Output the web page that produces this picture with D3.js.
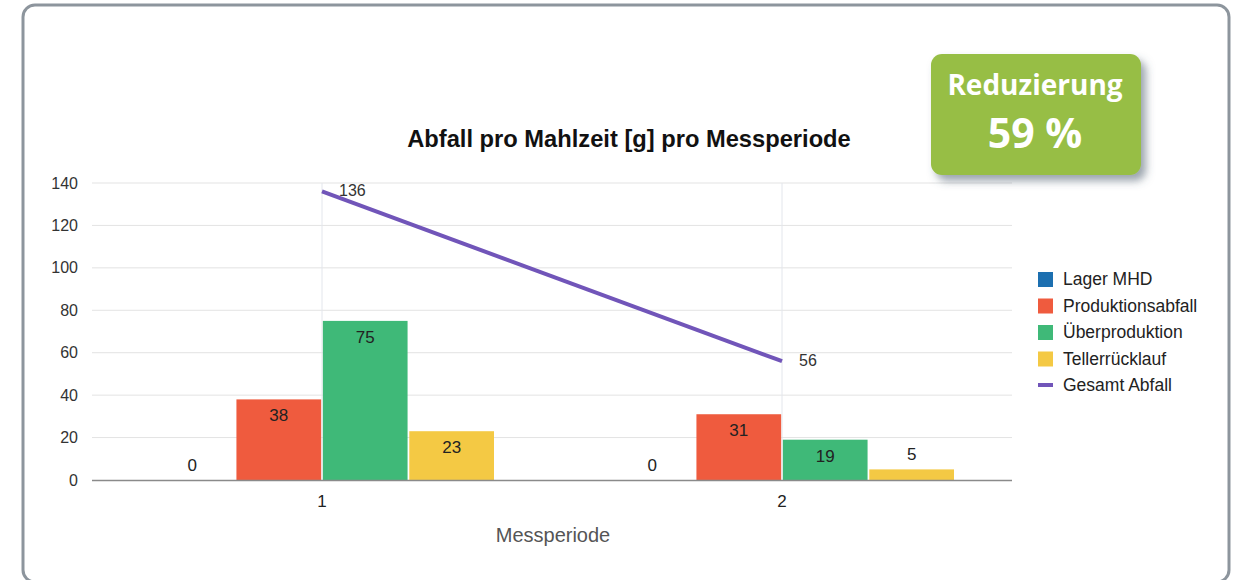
<!DOCTYPE html>
<html>
<head>
<meta charset="utf-8">
<script src="https://d3js.org/d3.v7.min.js"></script>
<style>
  body { margin: 0; background: #fff; }
  svg { display: block; }
</style>
</head>
<body>
<div id="chart"></div>
<script>
// data
const periods = ["1", "2"];
const seriesNames = ["Lager MHD", "Produktionsabfall", "Überproduktion", "Tellerrücklauf"];
const seriesColors = ["#1c6fb0", "#ef5b3e", "#3fb978", "#f4c944"];
const lagerMHD = [0, 0];
const produktionsabfall = [38, 31];
const ueberproduktion = [75, 19];
const tellerruecklauf = [23, 5];
const gesamtAbfall = [136, 56];
const lineName = "Gesamt Abfall";
const yTicks = [0, 20, 40, 60, 80, 100, 120, 140];

const W = 1240, H = 580;
const FONT = "Liberation Sans, Arial, sans-serif";
const svg = d3.select("#chart").append("svg")
  .attr("width", W).attr("height", H);

const defs = svg.append("defs");
const f = defs.append("filter").attr("id", "shadow")
  .attr("x", "-20%").attr("y", "-20%").attr("width", "150%").attr("height", "160%");
f.append("feDropShadow").attr("dx", 5).attr("dy", 6).attr("stdDeviation", 4)
  .attr("flood-color", "#4a5a6a").attr("flood-opacity", 0.55);

// frame
svg.append("rect")
  .attr("x", 23).attr("y", 5).attr("width", 1206).attr("height", 577)
  .attr("rx", 12)
  .attr("fill", "none").attr("stroke", "#8d959d").attr("stroke-width", 3);

const x0 = d3.scaleBand().domain(periods).range([92, 1012]);
const x1 = d3.scaleBand().domain(seriesNames).range([58, 402]).paddingInner(0.02);
const y = d3.scaleLinear().domain([0, 140]).range([480, 183]);

const table = periods.map((p, i) => ({
  period: p,
  values: [lagerMHD[i], produktionsabfall[i], ueberproduktion[i], tellerruecklauf[i]]
}));

// grid
const g = svg.append("g");
g.selectAll("line.hgrid").data(yTicks.slice(1)).join("line")
  .attr("x1", 92).attr("x2", 1012)
  .attr("y1", d => y(d)).attr("y2", d => y(d))
  .attr("stroke", "#e3e3e3").attr("stroke-width", 1);
g.selectAll("line.vgrid").data(periods).join("line")
  .attr("x1", d => x0(d) + x0.bandwidth() / 2).attr("x2", d => x0(d) + x0.bandwidth() / 2)
  .attr("y1", 183).attr("y2", 480)
  .attr("stroke", "#e3e6ec").attr("stroke-width", 1);

// y axis labels
const yAxis = svg.append("g").attr("transform", "translate(92,0)")
  .call(d3.axisLeft(y).tickValues(yTicks).tickSize(0).tickPadding(14));
yAxis.select(".domain").remove();
yAxis.selectAll("text").attr("font-family", FONT)
  .attr("font-size", 16).attr("fill", "#333");

// bars
const groups = svg.selectAll("g.grp").data(table).join("g")
  .attr("transform", d => `translate(${x0(d.period)},0)`);
groups.selectAll("rect").data(d => d.values.map((v, k) => ({ v, k }))).join("rect")
  .attr("x", d => x1(seriesNames[d.k]))
  .attr("width", x1.bandwidth())
  .attr("y", d => y(d.v))
  .attr("height", d => y(0) - y(d.v))
  .attr("fill", d => seriesColors[d.k]);
groups.selectAll("text").data(d => d.values.map((v, k) => ({ v, k }))).join("text")
  .attr("x", d => x1(seriesNames[d.k]) + x1.bandwidth() / 2)
  .attr("y", d => (y(0) - y(d.v) > 30 ? y(d.v) + 22 : y(d.v) - 9))
  .attr("text-anchor", "middle")
  .attr("font-family", FONT)
  .attr("font-size", 17).attr("fill", "#222")
  .text(d => d.v);

// x axis
svg.append("line").attr("x1", 92).attr("x2", 1012).attr("y1", 480.5).attr("y2", 480.5)
  .attr("stroke", "#8a8a8a").attr("stroke-width", 1.5);
const xAxis = svg.append("g").attr("transform", "translate(0,480)")
  .call(d3.axisBottom(x0).tickSize(0).tickPadding(15));
xAxis.select(".domain").remove();
xAxis.selectAll("text").attr("font-family", FONT)
  .attr("font-size", 17).attr("fill", "#222");

svg.append("text").attr("x", 553).attr("y", 542).attr("text-anchor", "middle")
  .attr("font-family", FONT)
  .attr("font-size", 20).attr("fill", "#555").text("Messperiode");

// line
const cx = p => x0(p) + x0.bandwidth() / 2;
const lineData = periods.map((p, i) => ({ p, v: gesamtAbfall[i] }));
svg.append("path").datum(lineData)
  .attr("d", d3.line().x(d => cx(d.p)).y(d => y(d.v)))
  .attr("fill", "none").attr("stroke", "#7155b9").attr("stroke-width", 4);
svg.selectAll("text.lbl").data(lineData).join("text")
  .attr("x", d => cx(d.p) + 17).attr("y", d => y(d.v) + 5)
  .attr("font-family", FONT)
  .attr("font-size", 16).attr("fill", "#333").text(d => d.v);

// title
svg.append("text").attr("x", 629).attr("y", 147).attr("text-anchor", "middle")
  .attr("font-family", FONT)
  .attr("font-weight", "bold").attr("font-size", 23.7).attr("fill", "#111")
  .text("Abfall pro Mahlzeit [g] pro Messperiode");

// legend
const legendItems = seriesNames.map((n, i) => ({ n, c: seriesColors[i], line: false }))
  .concat([{ n: lineName, c: "#7155b9", line: true }]);
const lg = svg.append("g").attr("transform", "translate(1038,279)");
const li = lg.selectAll("g").data(legendItems).join("g")
  .attr("transform", (d, i) => `translate(0,${i * 26.5})`);
li.filter(d => !d.line).append("rect").attr("x", 0).attr("y", -7).attr("width", 15).attr("height", 15)
  .attr("fill", d => d.c);
li.filter(d => d.line).append("rect").attr("x", 0).attr("y", -2).attr("width", 15).attr("height", 4)
  .attr("fill", d => d.c);
li.append("text").attr("x", 25).attr("y", 6)
  .attr("font-family", FONT)
  .attr("font-size", 17.5).attr("fill", "#222").text(d => d.n);

// badge
const b = svg.append("g");
b.append("rect").attr("x", 931).attr("y", 54).attr("width", 210).attr("height", 121).attr("rx", 11)
  .attr("fill", "#97be45").attr("filter", "url(#shadow)");
b.append("text").attr("x", 1035).attr("y", 95).attr("text-anchor", "middle")
  .attr("font-family", "Open Sans, sans-serif").attr("font-weight", "bold")
  .attr("font-size", 28).attr("fill", "#fff").text("Reduzierung");
b.append("text").attr("x", 1035).attr("y", 148).attr("text-anchor", "middle")
  .attr("font-family", "Open Sans, sans-serif").attr("font-weight", "bold")
  .attr("font-size", 41).attr("fill", "#fff").text("59 %");
</script>
</body>
</html>
